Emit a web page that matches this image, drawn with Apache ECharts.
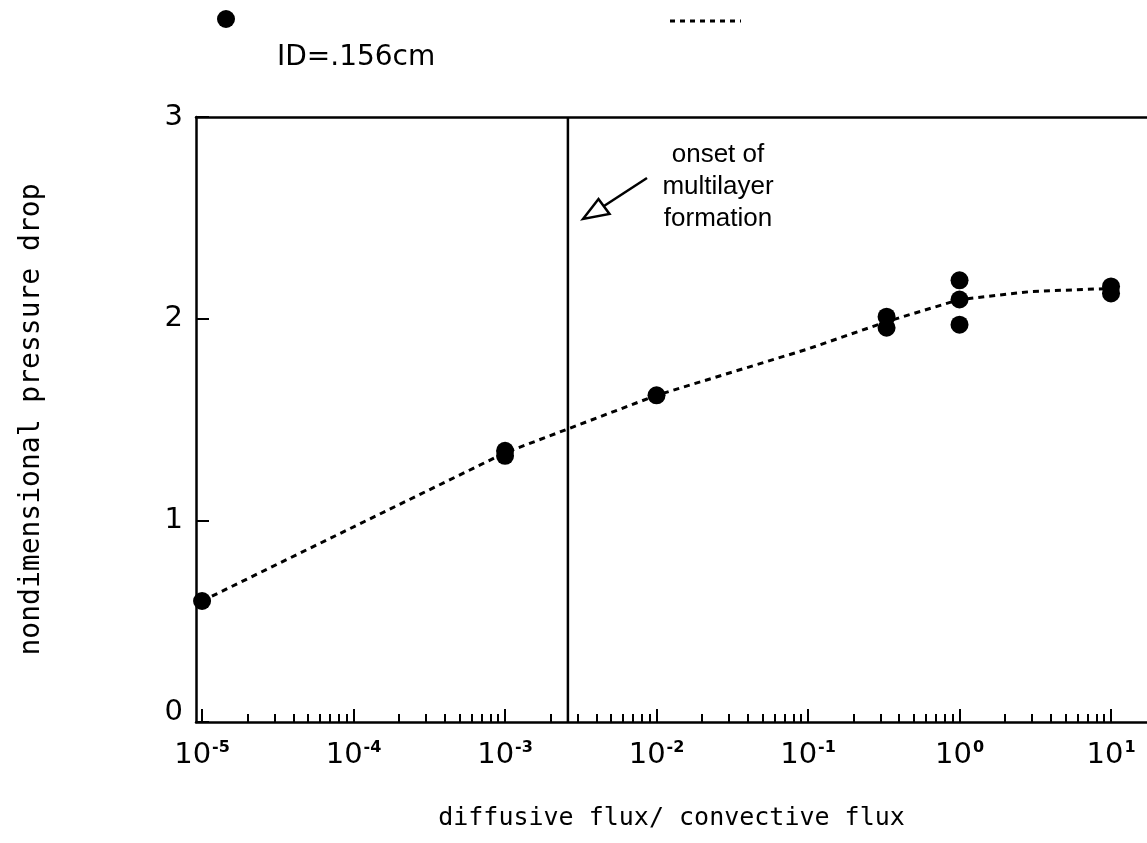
<!DOCTYPE html>
<html>
<head>
<meta charset="utf-8">
<script src="https://cdn.jsdelivr.net/npm/echarts@6/dist/echarts.min.js"></script>
<style>
  html, body { margin: 0; padding: 0; background: #fff; }
  #chart { width: 1147px; height: 843px; }
</style>
</head>
<body>
<div id="chart"></div>
<script>
// Measured points: flux ratio (x) against nondimensional pressure drop (y)
const fluxRatio    = [1e-5, 1e-3, 1e-3, 1e-2, 0.33, 0.33, 1, 1, 1, 10, 10];
const pressureDrop = [0.60, 1.32, 1.345, 1.62, 2.01, 1.955, 2.19, 2.095, 1.97, 2.16, 2.125];

// Dotted trend curve drawn through the measurements
const trendRatio = [1e-5, 1e-3, 1e-2, 0.1, 0.33, 1, 3, 10];
const trendDrop  = [0.60, 1.335, 1.62, 1.85, 1.985, 2.095, 2.135, 2.15];

// Flux ratio at which multilayer formation starts (vertical line)
const onsetRatio = 2.6e-3;
const onsetSpan  = [0, 3];

// Axis ticks and texts
const xDecades = [1e-5, 1e-4, 1e-3, 1e-2, 1e-1, 1, 10];
const yTickValues = [0, 1, 2, 3];
const legendLabel = 'ID=.156cm';
const annotationLines = ['onset of', 'multilayer', 'formation'];
const xTitle = 'diffusive flux/ convective flux';
const yTitle = 'nondimensional pressure drop';

// Axis range (log10 exponents)
const xMin = Math.pow(10, -5.04);
const xMax = Math.pow(10, 1.2375);

// Minor tick positions 2..9 inside every decade
const xMinor = [];
xDecades.forEach(function (d) {
  for (let m = 2; m <= 9; m++) {
    const v = d * m;
    if (v > xMin && v < xMax) xMinor.push(v);
  }
});

const BLACK = '#000';
const tickFont = 'DejaVu Sans';
const titleFont = 'DejaVu Sans Mono';

const chart = echarts.init(document.getElementById('chart'), null, { renderer: 'canvas' });

const logAxisBase = {
  type: 'log',
  logBase: 10,
  min: xMin,
  max: xMax,
  gridIndex: 0,
  splitLine: { show: false },
  minorTick: { show: false },
  minorSplitLine: { show: false }
};

chart.setOption({
  animation: false,
  backgroundColor: '#fff',
  grid: { left: 196, right: 0, top: 117, bottom: 121, containLabel: false },
  xAxis: [
    Object.assign({}, logAxisBase, {
      position: 'bottom',
      name: xTitle,
      nameLocation: 'middle',
      nameGap: 84,
      nameTextStyle: { fontFamily: titleFont, fontSize: 25, color: BLACK },
      axisLine: { show: true, lineStyle: { color: BLACK, width: 2.5 } },
      axisTick: { show: true, inside: true, length: 13, customValues: xDecades,
                  lineStyle: { color: BLACK, width: 2 } },
      axisLabel: {
        show: true,
        margin: 18,
        customValues: xDecades,
        formatter: function (v) {
          const e = Math.round(Math.log10(v));
          return '{b|10}{s|' + e + '}';
        },
        rich: {
          b: { fontFamily: tickFont, fontSize: 29, color: BLACK },
          s: { fontFamily: tickFont, fontSize: 16, fontWeight: 'bold', color: BLACK, padding: [0, 0, 15, 1] }
        }
      }
    }),
    Object.assign({}, logAxisBase, {
      position: 'bottom',
      axisLine: { show: false },
      axisTick: { show: true, inside: true, length: 8, customValues: xMinor,
                  lineStyle: { color: BLACK, width: 2 } },
      axisLabel: { show: false }
    }),
    Object.assign({}, logAxisBase, {
      position: 'top',
      axisLine: { show: true, lineStyle: { color: BLACK, width: 2.5 } },
      axisTick: { show: false },
      axisLabel: { show: false }
    })
  ],
  yAxis: {
    type: 'value',
    min: 0,
    max: 3,
    interval: 1,
    name: yTitle,
    nameLocation: 'middle',
    nameGap: 150,
    nameRotate: 90,
    nameTextStyle: { fontFamily: titleFont, fontSize: 28, color: BLACK },
    splitLine: { show: false },
    axisLine: { show: true, lineStyle: { color: BLACK, width: 2.5 } },
    axisTick: { show: true, inside: true, length: 13, customValues: yTickValues,
                lineStyle: { color: BLACK, width: 2 } },
    axisLabel: {
      margin: 13,
      customValues: yTickValues,
      fontFamily: tickFont,
      fontSize: 29,
      color: BLACK,
      formatter: function (v) { return v === 0 ? '{z|0}' : String(v); },
      rich: { z: { fontFamily: tickFont, fontSize: 29, color: BLACK, padding: [0, 0, 20, 0] } }
    }
  },
  series: [
    {
      name: 'onset',
      type: 'line',
      xAxisIndex: 0,
      data: onsetSpan.map(function (y) { return [onsetRatio, y]; }),
      showSymbol: false,
      symbol: 'none',
      silent: true,
      lineStyle: { color: BLACK, width: 2.5, type: 'solid' },
      z: 2
    },
    {
      name: 'trend',
      type: 'line',
      xAxisIndex: 0,
      data: trendRatio.map(function (x, i) { return [x, trendDrop[i]]; }),
      smooth: false,
      showSymbol: false,
      symbol: 'none',
      lineStyle: { color: BLACK, width: 3, type: [6, 5], cap: 'butt' },
      z: 2
    },
    {
      name: legendLabel,
      type: 'scatter',
      xAxisIndex: 0,
      data: fluxRatio.map(function (x, i) { return [x, pressureDrop[i]]; }),
      symbol: 'circle',
      symbolSize: 18,
      itemStyle: { color: BLACK, opacity: 1 },
      z: 3
    }
  ],
  graphic: [
    // legend: marker, its label, and the dotted trend sample
    { type: 'circle', shape: { cx: 226, cy: 19, r: 9 }, style: { fill: BLACK } },
    { type: 'text', style: { text: legendLabel, x: 277, y: 58, font: '28px "DejaVu Sans"',
      fill: BLACK, verticalAlign: 'middle', align: 'left' } },
    { type: 'line', shape: { x1: 670, y1: 21, x2: 741, y2: 21 },
      style: { stroke: BLACK, lineWidth: 3, lineDash: [5, 5] } },
    // annotation text and open-headed arrow pointing at the onset line
    { type: 'text', style: { text: annotationLines.join('\n'), x: 718, y: 187,
      font: '26px "Liberation Sans"', lineHeight: 32, fill: BLACK, align: 'center', verticalAlign: 'middle' } },
    { type: 'line', shape: { x1: 647, y1: 178, x2: 604, y2: 206 },
      style: { stroke: BLACK, lineWidth: 2.5 } },
    { type: 'polygon', shape: { points: [[583, 219], [598.5, 199], [609.5, 214]] },
      style: { fill: '#fff', stroke: BLACK, lineWidth: 2.5 } }
  ]
});
</script>
</body>
</html>
